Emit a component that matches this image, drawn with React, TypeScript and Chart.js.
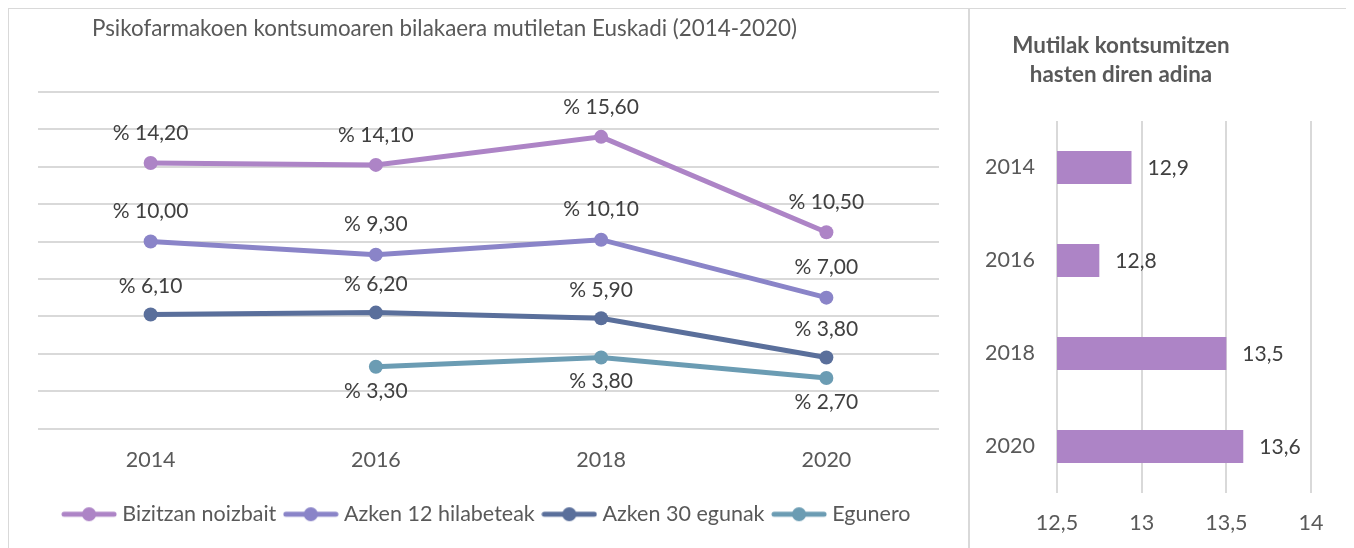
import React, { useEffect, useRef } from "react";
import { Chart, registerables } from "chart.js";

Chart.register(...registerables);

// ---- Line chart data ----
const years = ["2014", "2016", "2018", "2020"];
const bizitzan = [14.2, 14.1, 15.6, 10.5];
const azken12 = [10.0, 9.3, 10.1, 7.0];
const azken30 = [6.1, 6.2, 5.9, 3.8];
const egunero = [null, 3.3, 3.8, 2.7];
const seriesNames = ["Bizitzan noizbait", "Azken 12 hilabeteak", "Azken 30 egunak", "Egunero"];
const seriesColors = ["#AD84C6", "#8A84C8", "#5A6F9B", "#6B9CB3"];
const lineTitle = "Psikofarmakoen kontsumoaren bilakaera mutiletan Euskadi (2014-2020)";

// ---- Bar chart data ----
const ageYears = ["2014", "2016", "2018", "2020"];
const ageValues = [12.94, 12.75, 13.5, 13.6];
const ageTitle = ["Mutilak kontsumitzen", "hasten diren adina"];
const ageMin = 12.5;
const ageMax = 14;
const ageStep = 0.5;

const FONT = "Lato";
const AXIS_COLOR = "#595959";
const LABEL_COLOR = "#404040";
const GRID_COLOR = "#D9D9D9";

function legendSymbol(color: string) {
  const c = document.createElement("canvas");
  c.width = 56;
  c.height = 16;
  const ctx = c.getContext("2d")!;
  ctx.strokeStyle = color;
  ctx.lineWidth = 5;
  ctx.lineCap = "round";
  ctx.beginPath();
  ctx.moveTo(3, 8);
  ctx.lineTo(53, 8);
  ctx.stroke();
  ctx.fillStyle = color;
  ctx.beginPath();
  ctx.arc(28, 8, 7, 0, Math.PI * 2);
  ctx.fill();
  return c;
}

const lineLabelPlugin = {
  id: "lineLabels",
  afterDatasetsDraw(chart: any) {
    const ctx = chart.ctx;
    ctx.save();
    ctx.font = `21px ${FONT}`;
    ctx.fillStyle = LABEL_COLOR;
    ctx.textAlign = "center";
    ctx.textBaseline = "middle";
    chart.data.datasets.forEach((ds: any, i: number) => {
      const meta = chart.getDatasetMeta(i);
      meta.data.forEach((pt: any, j: number) => {
        const v = ds.data[j];
        if (v == null) return;
        const dy = ds.labelOffset;
        ctx.fillText("% " + v.toFixed(2).replace(".", ","), pt.x, pt.y + dy);
      });
    });
    ctx.restore();
  },
};

const lineTitlePlugin = {
  id: "lineTitle",
  afterDraw(chart: any) {
    const ctx = chart.ctx;
    ctx.save();
    ctx.font = `22.4px ${FONT}`;
    ctx.fillStyle = AXIS_COLOR;
    ctx.textAlign = "left";
    ctx.textBaseline = "middle";
    ctx.fillText(lineTitle, 83, 20);
    ctx.restore();
  },
};

const barLabelPlugin = {
  id: "barLabels",
  afterDatasetsDraw(chart: any) {
    const ctx = chart.ctx;
    ctx.save();
    ctx.font = `21px ${FONT}`;
    ctx.fillStyle = LABEL_COLOR;
    ctx.textAlign = "left";
    ctx.textBaseline = "middle";
    const meta = chart.getDatasetMeta(0);
    meta.data.forEach((bar: any, j: number) => {
      const v = chart.data.datasets[0].data[j];
      ctx.fillText(v.toFixed(1).replace(".", ","), bar.x + 16, bar.y + 1);
    });
    ctx.restore();
  },
};

const barTitlePlugin = {
  id: "barTitle",
  afterDraw(chart: any) {
    const ctx = chart.ctx;
    ctx.save();
    ctx.font = `bold 22.4px ${FONT}`;
    ctx.fillStyle = AXIS_COLOR;
    ctx.textAlign = "center";
    ctx.textBaseline = "middle";
    ageTitle.forEach((line, i) => ctx.fillText(line, 151, 37 + i * 29));
    ctx.restore();
  },
};

function LineChart() {
  const ref = useRef<HTMLCanvasElement>(null);
  useEffect(() => {
    const all = [bizitzan, azken12, azken30, egunero];
    const offsets = [-30, -30, -28, 24];
    const chart = new Chart(ref.current!, {
      type: "line",
      data: {
        labels: years,
        datasets: all.map((d, i) => ({
          label: seriesNames[i],
          data: d,
          borderColor: seriesColors[i],
          backgroundColor: seriesColors[i],
          pointBackgroundColor: seriesColors[i],
          pointBorderColor: seriesColors[i],
          borderWidth: 5,
          pointRadius: 7,
          pointBorderWidth: 0,
          tension: 0,
          labelOffset: offsets[i],
        })) as any,
      },
      options: {
        animation: false,
        responsive: false,
        layout: { padding: { left: 29, right: 29, top: 83, bottom: 13 } },
        scales: {
          x: {
            type: "category",
            offset: true,
            grid: { display: false, drawTicks: false },
            border: { display: false },
            ticks: { font: { family: FONT, size: 21.5 }, color: AXIS_COLOR, padding: 19 },
            afterFit: (s: any) => {
              s.height = 63;
            },
          },
          y: {
            min: 0,
            max: 18,
            ticks: { stepSize: 2, display: false },
            grid: { color: GRID_COLOR, lineWidth: 2, drawTicks: false },
            border: { display: false },
            afterFit: (s: any) => {
              s.width = 0;
            },
          },
        },
        plugins: {
          tooltip: { enabled: false },
          title: { display: false },
          legend: {
            position: "bottom",
            labels: {
              usePointStyle: true,
              pointStyleWidth: 45,
              padding: 12,
              font: { family: FONT, size: 21.5 },
              color: AXIS_COLOR,
              generateLabels: (ch: any) =>
                ch.data.datasets.map((ds: any, i: number) => ({
                  text: ds.label,
                  fillStyle: ds.borderColor,
                  strokeStyle: ds.borderColor,
                  lineWidth: 0,
                  pointStyle: legendSymbol(ds.borderColor),
                  datasetIndex: i,
                  hidden: false,
                  fontColor: AXIS_COLOR,
                })),
            },
          },
        },
      } as any,
      plugins: [lineLabelPlugin, lineTitlePlugin],
    });
    return () => chart.destroy();
  }, []);
  return <canvas ref={ref} width={959} height={539} style={{ display: "block" }} />;
}

function BarChart() {
  const ref = useRef<HTMLCanvasElement>(null);
  useEffect(() => {
    const chart = new Chart(ref.current!, {
      type: "bar",
      data: {
        labels: ageYears,
        datasets: [
          {
            data: ageValues,
            backgroundColor: "#AD84C6",
            borderWidth: 0,
            categoryPercentage: 1,
            barPercentage: 0.355,
          },
        ],
      },
      options: {
        indexAxis: "y",
        animation: false,
        responsive: false,
        layout: { padding: { left: 0, right: 41, top: 112, bottom: 0 } },
        scales: {
          x: {
            min: ageMin,
            max: ageMax,
            ticks: {
              stepSize: ageStep,
              font: { family: FONT, size: 21.5 },
              color: AXIS_COLOR,
              padding: 17,
              callback: (v: any) => String(v).replace(".", ","),
            },
            grid: { color: GRID_COLOR, lineWidth: 2, drawTicks: false },
            border: { display: false },
            afterFit: (s: any) => {
              s.height = 55;
            },
          },
          y: {
            grid: { display: false, drawTicks: false },
            border: { display: false },
            ticks: { font: { family: FONT, size: 21.5 }, color: AXIS_COLOR, padding: 22 },
            afterFit: (s: any) => {
              s.width = 87;
            },
          },
        },
        plugins: {
          tooltip: { enabled: false },
          legend: { display: false },
          title: { display: false },
        },
      } as any,
      plugins: [barLabelPlugin, barTitlePlugin],
    });
    return () => chart.destroy();
  }, []);
  return <canvas ref={ref} width={382} height={539} style={{ display: "block" }} />;
}

export default function App() {
  return (
    <>
      <style>{"html,body{overflow:hidden;}"}</style>
      <div
        style={{
          display: "flex",
          width: 1346,
          height: 540,
          boxSizing: "border-box",
          borderTop: `1px solid ${GRID_COLOR}`,
          borderLeft: `1px solid ${GRID_COLOR}`,
          borderRight: `2px solid ${GRID_COLOR}`,
          background: "#fff",
        }}
      >
        <div style={{ width: 959, height: 539 }}>
          <LineChart />
        </div>
        <div style={{ width: 382, height: 539, borderLeft: `2px solid ${GRID_COLOR}` }}>
          <BarChart />
        </div>
      </div>
    </>
  );
}
